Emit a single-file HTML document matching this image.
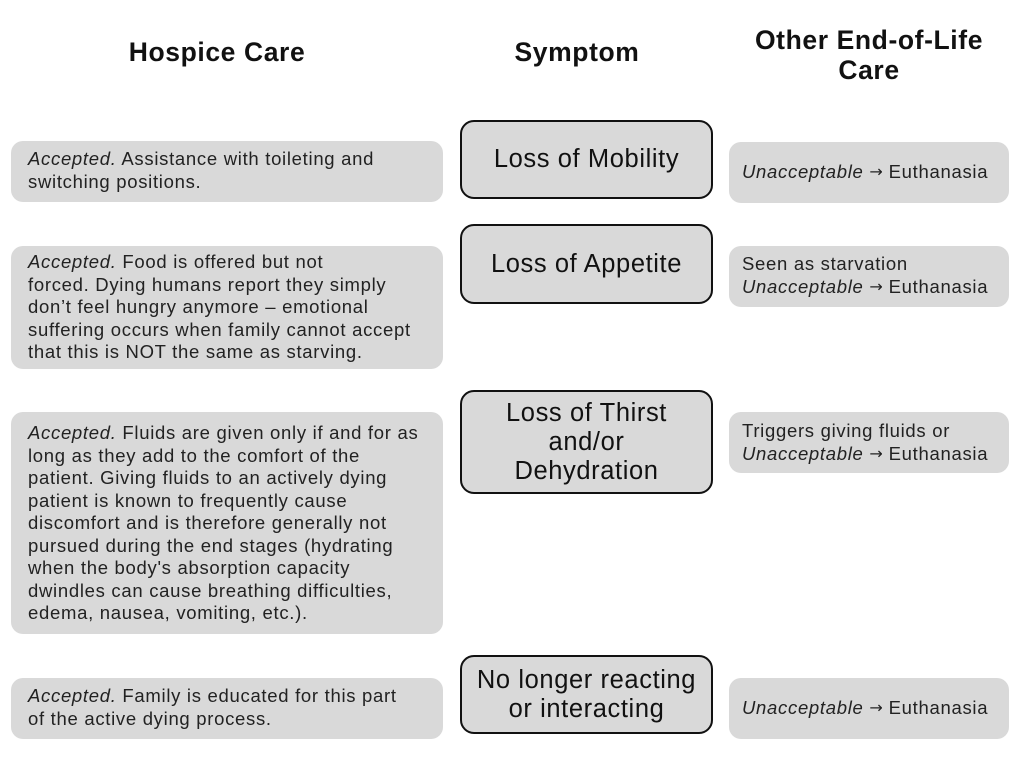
<!DOCTYPE html>
<html><head><meta charset="utf-8"><style>
html,body{margin:0;padding:0;background:#fff;}
body{width:1025px;height:767px;position:relative;overflow:hidden;font-family:"Liberation Sans",sans-serif;color:#222;}
.h{position:absolute;font-weight:bold;font-size:26.5px;letter-spacing:0.6px;text-align:center;line-height:30px;color:#111;}
.l,.r{position:absolute;background:#d9d9d9;border-radius:12px;font-size:18.5px;letter-spacing:0.7px;line-height:22.5px;white-space:nowrap;box-sizing:border-box;}
.l{left:11px;width:432px;padding-left:17px;}
.r{left:729px;width:280px;padding-left:13px;}
.m{position:absolute;left:460px;width:253px;background:#d9d9d9;border:2px solid #111;border-radius:14px;box-sizing:border-box;font-size:25.5px;letter-spacing:0.6px;line-height:29px;text-align:center;display:flex;align-items:center;justify-content:center;color:#111;white-space:nowrap;}
.a{font-family:"DejaVu Sans",sans-serif;font-size:16px;letter-spacing:0;position:relative;top:-1px;}
</style></head><body>
<div class="h" style="left:67px;width:300px;top:37px;">Hospice Care</div>
<div class="h" style="left:477px;width:200px;top:37px;">Symptom</div>
<div class="h" style="left:719px;width:300px;top:25px;">Other End-of-Life<br>Care</div>

<div class="l" style="top:141px;height:61px;padding-top:7px;"><i>Accepted.</i> Assistance with toileting and<br>switching positions.</div>
<div class="l" style="top:246px;height:123px;padding-top:5px;"><i>Accepted.</i> Food is offered but not<br>forced. Dying humans report they simply<br>don’t feel hungry anymore – emotional<br>suffering occurs when family cannot accept<br>that this is NOT the same as starving.</div>
<div class="l" style="top:412px;height:222px;padding-top:10px;"><i>Accepted.</i> Fluids are given only if and for as<br>long as they add to the comfort of the<br>patient. Giving fluids to an actively dying<br>patient is known to frequently cause<br>discomfort and is therefore generally not<br>pursued during the end stages (hydrating<br>when the body's absorption capacity<br>dwindles can cause breathing difficulties,<br>edema, nausea, vomiting, etc.).</div>
<div class="l" style="top:678px;height:61px;padding-top:7px;"><i>Accepted.</i> Family is educated for this part<br>of the active dying process.</div>

<div class="m" style="top:120px;height:79px;">Loss of Mobility</div>
<div class="m" style="top:224px;height:80px;">Loss of Appetite</div>
<div class="m" style="top:390px;height:104px;">Loss of Thirst<br>and/or<br>Dehydration</div>
<div class="m" style="top:655px;height:79px;">No longer reacting<br>or interacting</div>

<div class="r" style="top:142px;height:61px;padding-top:19px;"><i>Unacceptable</i> <span class="a">→</span> Euthanasia</div>
<div class="r" style="top:246px;height:61px;padding-top:7px;">Seen as starvation<br><i>Unacceptable</i> <span class="a">→</span> Euthanasia</div>
<div class="r" style="top:412px;height:61px;padding-top:8px;">Triggers giving fluids or<br><i>Unacceptable</i> <span class="a">→</span> Euthanasia</div>
<div class="r" style="top:678px;height:61px;padding-top:19px;"><i>Unacceptable</i> <span class="a">→</span> Euthanasia</div>
</body></html>
